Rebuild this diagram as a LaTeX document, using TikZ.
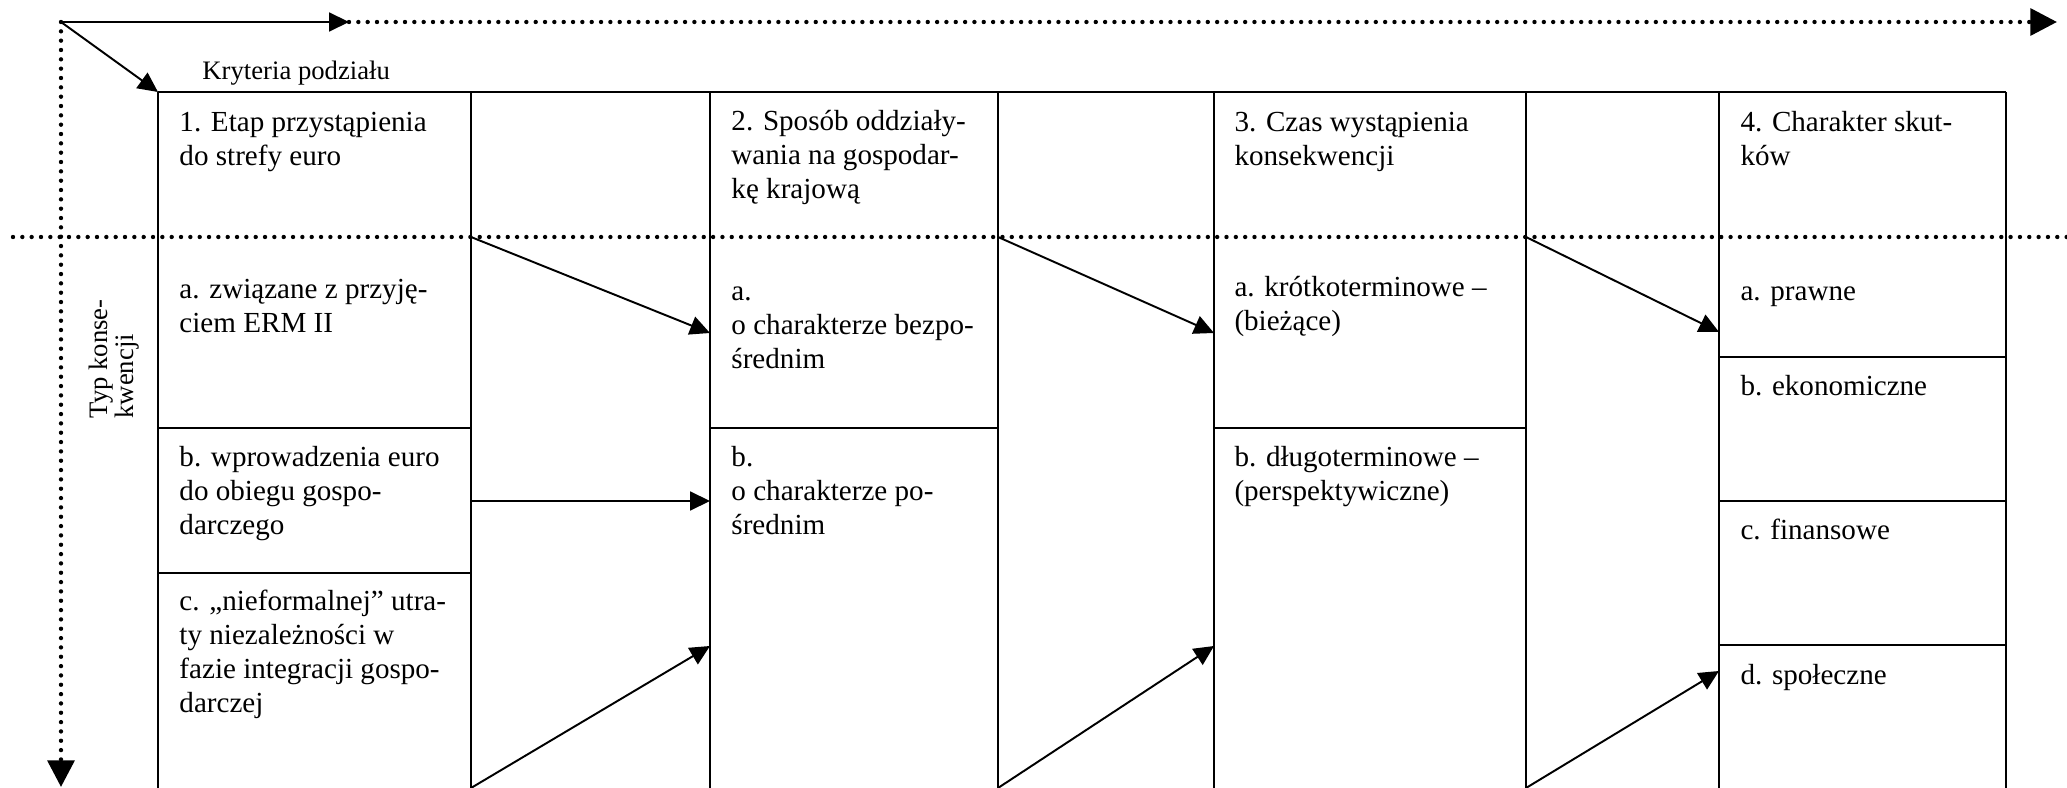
\documentclass[tikz,border=0pt]{standalone}
\usepackage{fontspec}
\setmainfont{Liberation Serif}
\usetikzlibrary{arrows.meta}

\begin{document}
\begin{tikzpicture}[x=0.0145cm,y=-0.0145cm,
    grid/.style={line width=0.8pt},
    arr/.style={line width=0.8pt,-{Triangle[length=8.2pt,width=7.8pt]}},
    dots/.style={line width=1.8pt,line cap=round,dash pattern=on 0pt off 3.85pt},
    dotarr/.style={dots,-{Triangle[length=11pt,width=11pt]}},
    txt/.style={anchor=north west,inner sep=0pt,align=left,font=\fontsize{12}{14}\selectfont}]
        \useasboundingbox (0,0) rectangle (2067,788);

        % axes
        \coordinate (o) at (61,22);
        \coordinate (xmid) at (349,22);
        \coordinate (xend) at (2057,22);
        \coordinate (yend) at (61,787);
        \coordinate (corner) at (158,92);
        \draw[arr] (o) -- (xmid);
        \draw[dotarr] (xmid) -- (xend);
        \draw[dotarr] (o) -- (yend);
        \draw[arr] (o) -- (corner);
        \draw[dots] (13,237) -- (2067,237);

        \node[anchor=base west,inner sep=0pt,font=\fontsize{11}{13}\selectfont] (kryt) at (202,80) {Kryteria podziału};
        \node[rotate=90,align=left,inner sep=0pt,font=\fontsize{11}{9.5}\selectfont] (typ) at (114,359) {Typ konse-\\kwencji};

        % table
        \draw[grid] (158,92) -- (2006,92);
        \foreach \x in {158,471,710,998,1214,1526,1719,2006}
          \draw[grid] (\x,92) -- (\x,788);
        \foreach \y in {428,573}
          \draw[grid] (158,\y) -- (471,\y);
        \draw[grid] (710,428) -- (998,428);
        \draw[grid] (1214,428) -- (1526,428);
        \foreach \y in {357,501,645}
          \draw[grid] (1719,\y) -- (2006,\y);

        % column 1
        \node[txt] (h1) at (179,107) {\strut 1. Etap przystąpienia\\do strefy euro};
        \node[txt] (a1) at (179,274) {\strut a. związane z przyję-\\ciem ERM II};
        \node[txt] (b1) at (179,442) {\strut b. wprowadzenia euro\\do obiegu gospo-\\darczego};
        \node[txt] (c1) at (179,586) {\strut c. „nieformalnej” utra-\\ty niezależności w\\fazie integracji gospo-\\darczej};

        % column 2
        \node[txt] (h2) at (731,106) {\strut 2. Sposób oddziały-\\wania na gospodar-\\kę krajową};
        \node[txt] (a2) at (731,276) {\strut a.\\o charakterze bezpo-\\średnim};
        \node[txt] (b2) at (731,442) {\strut b.\\o charakterze po-\\średnim};

        % column 3
        \node[txt] (h3) at (1234,107) {\strut 3. Czas wystąpienia\\konsekwencji};
        \node[txt] (a3) at (1234,272) {\strut a. krótkoterminowe –\\(bieżące)};
        \node[txt] (b3) at (1234,442) {\strut b. długoterminowe –\\(perspektywiczne)};

        % column 4
        \node[txt] (h4) at (1740,107) {\strut 4. Charakter skut-\\ków};
        \node[txt] (a4) at (1740,276) {\strut a. prawne};
        \node[txt] (b4) at (1740,371) {\strut b. ekonomiczne};
        \node[txt] (c4) at (1740,515) {\strut c. finansowe};
        \node[txt] (d4) at (1740,660) {\strut d. społeczne};

        % arrows between columns
        \coordinate (s1t) at (471,237);
        \coordinate (s1m) at (471,501);
        \coordinate (s1b) at (471,788);
        \coordinate (e1t) at (710,333);
        \coordinate (e1m) at (710,501);
        \coordinate (e1b) at (710,646);
        \coordinate (s2t) at (998,237);
        \coordinate (s2b) at (998,788);
        \coordinate (e2t) at (1214,333);
        \coordinate (e2b) at (1214,646);
        \coordinate (s3t) at (1526,237);
        \coordinate (s3b) at (1526,788);
        \coordinate (e3t) at (1719,332);
        \coordinate (e3b) at (1719,671);
        \draw[arr] (s1t) -- (e1t);
        \draw[arr] (s1m) -- (e1m);
        \draw[arr] (s1b) -- (e1b);
        \draw[arr] (s2t) -- (e2t);
        \draw[arr] (s2b) -- (e2b);
        \draw[arr] (s3t) -- (e3t);
        \draw[arr] (s3b) -- (e3b);
      \end{tikzpicture}
\end{document}
